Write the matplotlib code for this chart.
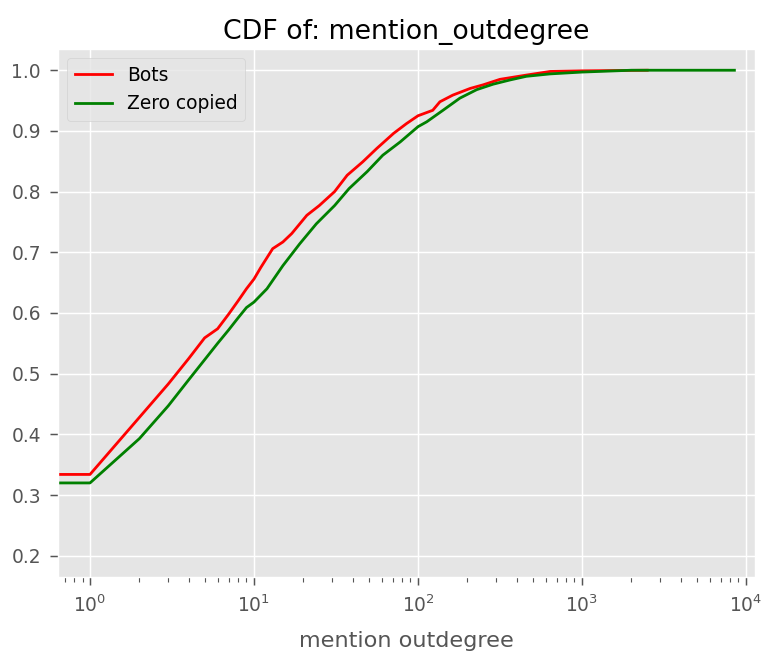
import numpy as np
import matplotlib
matplotlib.use("Agg")
import matplotlib.pyplot as plt

# CDF points (x = mention outdegree, y = cumulative fraction)
bots_x = [0, 1, 2, 3, 4, 5, 6, 7, 8, 9, 10, 11, 13, 15, 17, 21, 25, 31, 37, 46,
          56, 71, 85, 100, 123, 136, 163, 208, 250, 316, 458, 640, 1000, 2500]
bots_y = [0.334, 0.334, 0.428, 0.483, 0.525, 0.559, 0.574, 0.598, 0.620, 0.640,
          0.656, 0.675, 0.706, 0.717, 0.731, 0.761, 0.777, 0.800, 0.827, 0.849,
          0.871, 0.896, 0.912, 0.925, 0.934, 0.948, 0.959, 0.970, 0.976, 0.985,
          0.992, 0.998, 0.999, 1.0]

zero_x = [0, 1, 2, 3, 4, 5, 6, 7, 8, 9, 10, 12, 15, 19, 24, 31, 38, 49, 61, 78,
          100, 113, 142, 180, 228, 287, 364, 458, 640, 1000, 2000, 8500]
zero_y = [0.320, 0.320, 0.393, 0.447, 0.490, 0.523, 0.550, 0.572, 0.592, 0.609,
          0.618, 0.640, 0.678, 0.714, 0.747, 0.777, 0.805, 0.833, 0.860, 0.882,
          0.907, 0.915, 0.934, 0.954, 0.968, 0.977, 0.984, 0.990, 0.994, 0.997,
          1.0, 1.0]

plt.style.use("ggplot")
s = 1.34  # the reference was rendered at ~134 dpi
plt.rcParams.update({
    "xtick.major.size": 5.8, "ytick.major.size": 5.8,
    "xtick.minor.size": 3.6, "ytick.minor.size": 3.6,
    "xtick.major.width": 0.8 * s, "ytick.major.width": 0.8 * s,
    "xtick.minor.width": 0.6 * s,
    "xtick.major.pad": 6.5, "ytick.major.pad": 6.5,
    "xtick.minor.pad": 6.5,
    "grid.linewidth": 0.8 * s,
})

fig = plt.figure(figsize=(7.64, 6.56), dpi=100)
ax = fig.add_axes([58 / 764, 79 / 656, 697 / 764, 528 / 656])

ax.plot(bots_x, bots_y, color="red", lw=1.5 * s, label="Bots")
ax.plot(zero_x, zero_y, color="green", lw=1.5 * s, label="Zero copied")

ax.set_xscale("log")
ax.set_xlim(0.638, 11350)
ax.set_ylim(0.165, 1.035)
ax.set_yticks(np.arange(0.2, 1.01, 0.1))
ax.tick_params(labelsize=10 * s)

ax.set_title("CDF of: mention_outdegree", fontsize=14.4 * s, pad=7)
ax.set_xlabel("mention outdegree", fontsize=12 * s, labelpad=11)
ax.legend(loc="upper left", fontsize=10 * s)

fig.savefig("out.png", dpi=100)
